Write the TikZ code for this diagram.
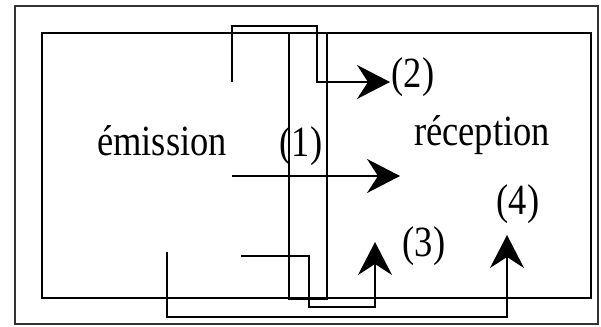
\documentclass[tikz,border=0pt]{standalone}
\usepackage{fontspec}
\setmainfont{Liberation Serif}
\usetikzlibrary{arrows.meta}
\newcommand{\tallt}[1]{\scalebox{1}[1.18]{#1}}
\begin{document}
\begin{tikzpicture}[x=1pt,y=-1pt,
  box/.style={draw=black,line width=2pt},
  wire/.style={draw=black,line width=1.5pt},
  bigarrow/.style={-{Stealth[length=33pt,width=34pt,inset=11pt]}},
  lbl/.style={font=\fontsize{36.5}{40}\selectfont,inner sep=0pt,anchor=base}]
\useasboundingbox (0,0) rectangle (601,326);
\draw[box,draw=black!80] (15,6) rectangle (598,324);
\draw[box] (42,33) rectangle (591,298);
\draw[box] (289,33) rectangle (327,299);
% path (2)
\coordinate (a2) at (232,82);
\coordinate (t2) at (390,82);
\draw[wire,bigarrow] (a2) -- (232,26) -- (317,26) -- (317,82) -- (t2);
% main arrow
\coordinate (a1) at (232,176);
\coordinate (t1) at (400,176);
\draw[wire,bigarrow] (a1) -- (t1);
% path (3)
\coordinate (a3) at (241,256);
\coordinate (t3) at (375,242);
\draw[wire,bigarrow] (a3) -- (309,256) -- (309,307) -- (375,307) -- (t3);
% path (4)
\coordinate (a4) at (167,252);
\coordinate (t4) at (507,235);
\draw[wire,bigarrow] (a4) -- (167,317) -- (507,317) -- (t4);
% labels
\node[lbl] (em) at (162,155) {\tallt{émission}};
\node[lbl] (l1) at (301,156) {\tallt{(1)}};
\node[lbl] (rec) at (482,145) {\tallt{réception}};
\node[lbl] (l2) at (413,88) {\tallt{(2)}};
\node[lbl] (l3) at (424,256) {\tallt{(3)}};
\node[lbl] (l4) at (518,214) {\tallt{(4)}};
\end{tikzpicture}
\end{document}
